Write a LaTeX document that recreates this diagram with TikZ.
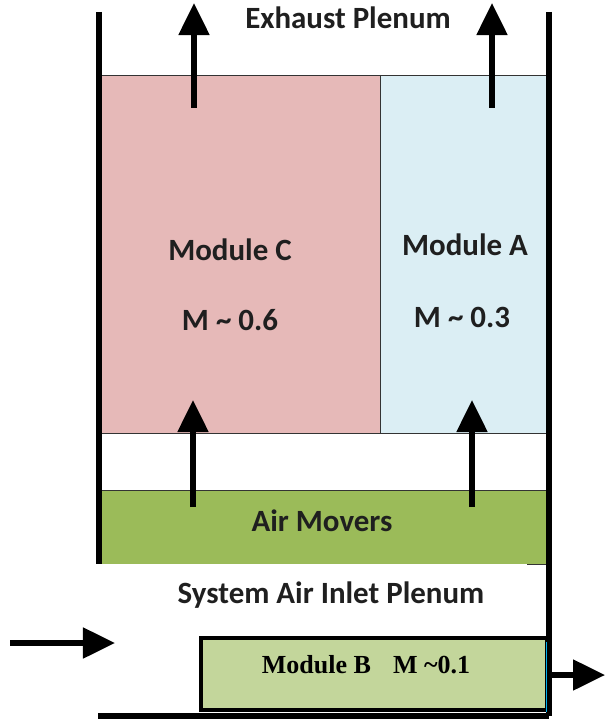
\documentclass[tikz,border=0pt]{standalone}
\usepackage{fontspec}
\setmainfont{Carlito}
\newfontfamily\timesfont{Liberation Serif}
\usetikzlibrary{arrows.meta}
\definecolor{pinkC}{HTML}{E6B9B8}
\definecolor{blueA}{HTML}{DBEEF4}
\definecolor{greenF}{HTML}{9BBB59}
\definecolor{greenB}{HTML}{C3D69B}
\definecolor{edgeB}{HTML}{00B0F0}
\begin{document}
\begin{tikzpicture}[x=0.025cm, y=-0.025cm,
    box/.style={anchor=north west, inner sep=0pt, outer sep=0pt},
    wall/.style={line width=3.6pt},
    flow/.style={line width=3.6pt, -{Triangle[width=0.75cm, length=0.8cm]}},
    lbl/.style={font=\bfseries\fontsize{22}{26}\selectfont, text=black!88}]
    \useasboundingbox (0,0) rectangle (605,721);

    % modules
    \node[box, fill=pinkC, minimum width=7cm, minimum height=8.95cm] (modC) at (100,75) {};
    \node[box, fill=blueA, minimum width=4.175cm, minimum height=8.95cm] (modA) at (380,75) {};
    \node[box, fill=greenF, minimum width=11.175cm, minimum height=1.85cm] (fans) at (100,490) {};
    \draw[black!80, line width=0.7pt] (modC.north west) -- (modA.north east);
    \draw[black!80, line width=0.7pt] (modC.south west) -- (modA.south east);
    \draw[black!80, line width=0.7pt] (modC.north east) -- (modC.south east);
    \draw[black!80, line width=0.7pt] (fans.north west) -- (fans.north east);
    \draw[black!80, line width=0.7pt] (fans.south east) -- ++(-20,0);

    % module B at the inlet
    \node[box, draw, line width=2.3pt, fill=greenB, minimum width=8.65cm, minimum height=1.8cm] (modB) at (201,638) {};
    \node[font=\timesfont\bfseries\fontsize{18.5}{22}\selectfont] (modBtxt) at (366,665) {Module B\hspace{0.85em}M \textasciitilde0.1};

    % walls
    \draw[wall] (99,12) -- (99,564);
    \draw[wall] (549,12) -- (549,716);
    \draw[wall] (98,716) -- (549,716);
    \draw[edgeB, line width=0.8pt] (546.5,642) -- (546.5,712);

    % labels
    \node[lbl] (exh) at (348,18) {Exhaust Plenum};
    \node[lbl] (nameC) at (230,250) {Module C};
    \node[lbl] (valC) at (230,320) {M \textasciitilde{} 0.6};
    \node[lbl] (nameA) at (465,245) {Module A};
    \node[lbl] (valA) at (462,317) {M \textasciitilde{} 0.3};
    \node[lbl] (fanTxt) at (322,521) {Air Movers};
    \node[lbl] (inlet) at (331,595) {System Air Inlet Plenum};

    % air flow
    \coordinate (inC) at (193,507);
    \coordinate (upC) at (193,400);
    \coordinate (inA) at (472,507);
    \coordinate (upA) at (472,400);
    \coordinate (topC) at (194,108);
    \coordinate (exC) at (194,3);
    \coordinate (topA) at (492,108);
    \coordinate (exA) at (492,3);
    \coordinate (feed) at (10,643);
    \coordinate (feedEnd) at (115,643);
    \coordinate (outB) at (549,675);
    \coordinate (outEnd) at (605,675);
    \draw[flow] (inC) -- (upC);
    \draw[flow] (inA) -- (upA);
    \draw[flow] (topC) -- (exC);
    \draw[flow] (topA) -- (exA);
    \draw[flow] (feed) -- (feedEnd);
    \draw[flow] (outB) -- (outEnd);
\end{tikzpicture}
\end{document}
